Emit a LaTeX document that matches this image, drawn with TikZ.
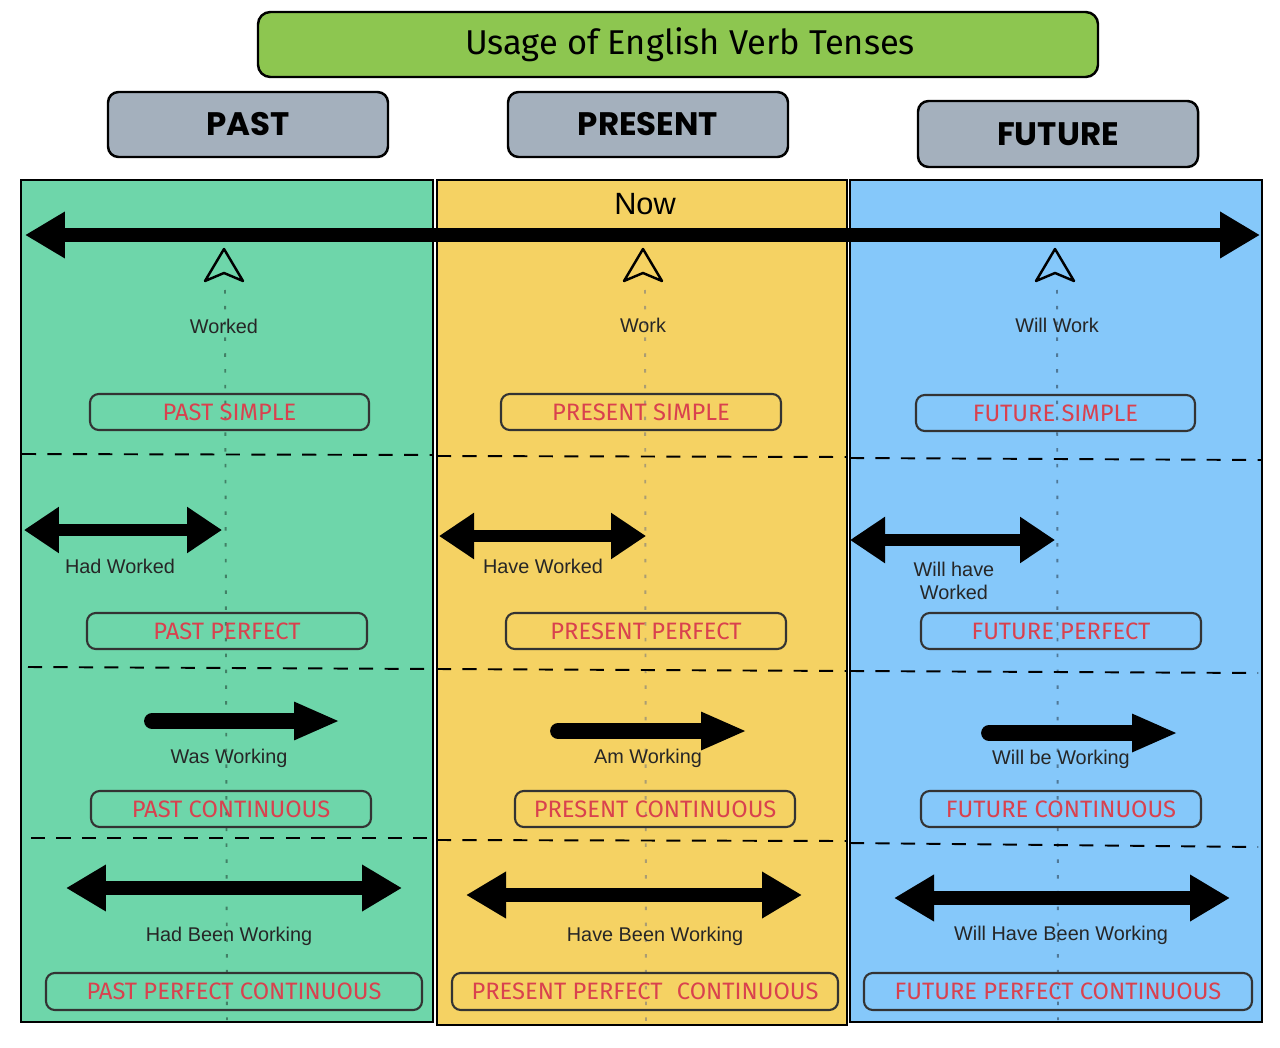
\documentclass[tikz,border=0pt]{standalone}
\usepackage{fontspec}
\setmainfont{Liberation Sans}
\newfontfamily\titlefont{Fira Sans}
\newfontfamily\headfont{Poppins}
\newfontfamily\tensefont{Fira Sans}
\usetikzlibrary{arrows.meta}
\definecolor{pgreen}{HTML}{6ED6AA}
\definecolor{pyellow}{HTML}{F5D263}
\definecolor{pblue}{HTML}{85C8FA}
\definecolor{tgreen}{HTML}{8DC650}
\definecolor{hgray}{HTML}{A4B0BD}
\definecolor{tred}{HTML}{D9414E}
\begin{document}
\begin{tikzpicture}[x=0.02cm,y=-0.02cm,
  wh/.style 2 args={minimum width={#1*0.02cm}, minimum height={#2*0.02cm}},
  panelbox/.style={draw=black, line width=1.2pt, inner sep=0pt},
  titlebox/.style={draw=black, line width=1.4pt, rounded corners=7pt, fill=tgreen, inner sep=0pt, font=\titlefont\fontsize{19.6}{22}\selectfont},
  headbox/.style={draw=black, line width=1.4pt, rounded corners=6pt, fill=hgray, inner sep=0pt, font=\headfont\bfseries\fontsize{18.5}{20}\selectfont},
  tensebox/.style={draw=black!80, line width=1.2pt, rounded corners=5pt, inner sep=0pt, text=tred, font=\tensefont\fontsize{13.5}{15}\selectfont},
  lbl/.style={font=\fontsize{11.3}{13}\selectfont, text=black!85, align=center, inner sep=1pt},
  sepline/.style={line width=1.1pt, dash pattern=on 8pt off 6.5pt},
  guide/.style={line width=1.1pt, dash pattern=on 2pt off 7pt},
  dblarrow/.style={line width=#1, {Triangle[length=0.8cm,width=0.88cm]}-{Triangle[length=0.8cm,width=0.88cm]}},
  dblsmall/.style={line width=6.8pt, {Triangle[length=0.7cm,width=0.88cm]}-{Triangle[length=0.7cm,width=0.88cm]}},
  onearrow/.style={line width=9pt, line cap=round, -{Triangle[length=0.92cm,width=0.7cm]}},
  pointer/.pic={\draw[line width=1.4pt, line join=round] (0,-16) -- (-19,16) -- (0,8) -- (19,16) -- cycle;}
]
\useasboundingbox (0,0) rectangle (1280,1047);
\fill[white] (0,0) rectangle (1280,1047);

% panels
\node[panelbox, fill=pgreen, wh={412}{842}] (gp) at (227,601) {};
\node[panelbox, fill=pyellow, wh={410}{845}] (yp) at (642,602.5) {};
\node[panelbox, fill=pblue, wh={412}{842}] (bp) at (1056,601) {};

% title and headers
\node[titlebox, wh={840}{65}] (title) at (678,44.5) {\hspace*{0.48cm}Usage of English Verb Tenses};
\node[headbox, wh={280}{65}] (hpast) at (248,124.5) {PAST};
\node[headbox, wh={280}{65}] (hpres) at (648,124.5) {PRESENT};
\node[headbox, wh={280}{66}] (hfut) at (1058,134) {FUTURE};

% guide lines
\coordinate (g1t) at (225,290); \coordinate (g1b) at (227,1020);
\coordinate (g2t) at (645,290); \coordinate (g2b) at (646,1022);
\coordinate (g3t) at (1057,290); \coordinate (g3b) at (1058,1020);
\draw[guide, draw=pgreen!60!black] (g1t) -- (g1b);
\draw[guide, draw=pyellow!55!black!70] (g2t) -- (g2b);
\draw[guide, draw=pblue!60!black] (g3t) -- (g3b);

% separators
\coordinate (s1a) at (22,454); \coordinate (s1b) at (433,455);
\coordinate (s1c) at (437,456); \coordinate (s1d) at (847,457);
\coordinate (s1e) at (850,458); \coordinate (s1f) at (1262,460);
\coordinate (s2a) at (28,667); \coordinate (s2b) at (433,669);
\coordinate (s2c) at (437,669); \coordinate (s2d) at (847,671);
\coordinate (s2e) at (850,671); \coordinate (s2f) at (1258,673);
\coordinate (s3a) at (31,838); \coordinate (s3b) at (433,838);
\coordinate (s3c) at (437,840); \coordinate (s3d) at (847,841);
\coordinate (s3e) at (850,843); \coordinate (s3f) at (1258,847);
\foreach \a/\b in {s1a/s1b,s1c/s1d,s1e/s1f,s2a/s2b,s2c/s2d,s2e/s2f,s3a/s3b,s3c/s3d,s3e/s3f}
  \draw[sepline] (\a) -- (\b);

% timeline
\node[font=\fontsize{17.5}{20}\selectfont, inner sep=0pt] (now) at (645,204) {Now};
\coordinate (tlL) at (25,235); \coordinate (tlR) at (1260,235);
\draw[dblarrow=7.9pt] (tlL) -- (tlR);

\pic (p1) at (224,265) {pointer};
\pic (p2) at (643,265) {pointer};
\pic (p3) at (1055,265) {pointer};

% row 1
\node[lbl] (l1a) at (224,326) {Worked};
\node[lbl] (l1b) at (643,325) {Work};
\node[lbl] (l1c) at (1057,325) {Will Work};
\node[tensebox, wh={279}{36}] (t1a) at (229.5,412) {PAST SIMPLE};
\node[tensebox, wh={280}{36}] (t1b) at (641,412) {PRESENT SIMPLE};
\node[tensebox, wh={279}{36}] (t1c) at (1055.5,413) {FUTURE SIMPLE};

% row 2
\coordinate (a2a) at (24,530); \coordinate (b2a) at (222,530);
\coordinate (a2b) at (439,536); \coordinate (b2b) at (646,536);
\coordinate (a2c) at (850,540); \coordinate (b2c) at (1055,540);
\draw[dblsmall] (a2a) -- (b2a);
\draw[dblsmall] (a2b) -- (b2b);
\draw[dblsmall] (a2c) -- (b2c);
\node[lbl] (l2a) at (120,566) {Had Worked};
\node[lbl] (l2b) at (543,566) {Have Worked};
\node[lbl] (l2c) at (954,581) {Will have\\Worked};
\node[tensebox, wh={280}{36}] (t2a) at (227,631) {PAST PERFECT};
\node[tensebox, wh={280}{36}] (t2b) at (646,631) {PRESENT PERFECT};
\node[tensebox, wh={280}{36}] (t2c) at (1061,631) {FUTURE PERFECT};

% row 3
\coordinate (a3a) at (152,721); \coordinate (b3a) at (340,721);
\coordinate (a3b) at (558,731); \coordinate (b3b) at (747,731);
\coordinate (a3c) at (989,733); \coordinate (b3c) at (1178,733);
\draw[onearrow] (a3a) -- (b3a);
\draw[onearrow] (a3b) -- (b3b);
\draw[onearrow] (a3c) -- (b3c);
\node[lbl] (l3a) at (229,758) {Was Working};
\node[lbl] (l3b) at (648,758) {Am Working};
\node[lbl] (l3c) at (1061,759) {Will be Working};
\node[tensebox, wh={280}{36}] (t3a) at (231,809) {PAST CONTINUOUS};
\node[tensebox, wh={280}{36}] (t3b) at (655,809) {PRESENT CONTINUOUS};
\node[tensebox, wh={280}{36}] (t3c) at (1061,809) {FUTURE CONTINUOUS};

% row 4
\coordinate (a4a) at (66,888); \coordinate (b4a) at (402,888);
\coordinate (a4b) at (466,895); \coordinate (b4b) at (802,895);
\coordinate (a4c) at (894,898); \coordinate (b4c) at (1230,898);
\draw[dblarrow=7.9pt] (a4a) -- (b4a);
\draw[dblarrow=7.9pt] (a4b) -- (b4b);
\draw[dblarrow=7.9pt] (a4c) -- (b4c);
\node[lbl] (l4a) at (229,936) {Had Been Working};
\node[lbl] (l4b) at (655,936) {Have Been Working};
\node[lbl] (l4c) at (1061,935) {Will Have Been Working};
\node[tensebox, wh={376}{37}] (t4a) at (234,991.5) {PAST PERFECT CONTINUOUS};
\node[tensebox, wh={386}{37}] (t4b) at (645,991.5) {PRESENT PERFECT\hspace{0.6em}CONTINUOUS};
\node[tensebox, wh={388}{37}] (t4c) at (1058,991.5) {FUTURE PERFECT CONTINUOUS};
\end{tikzpicture}
\end{document}
